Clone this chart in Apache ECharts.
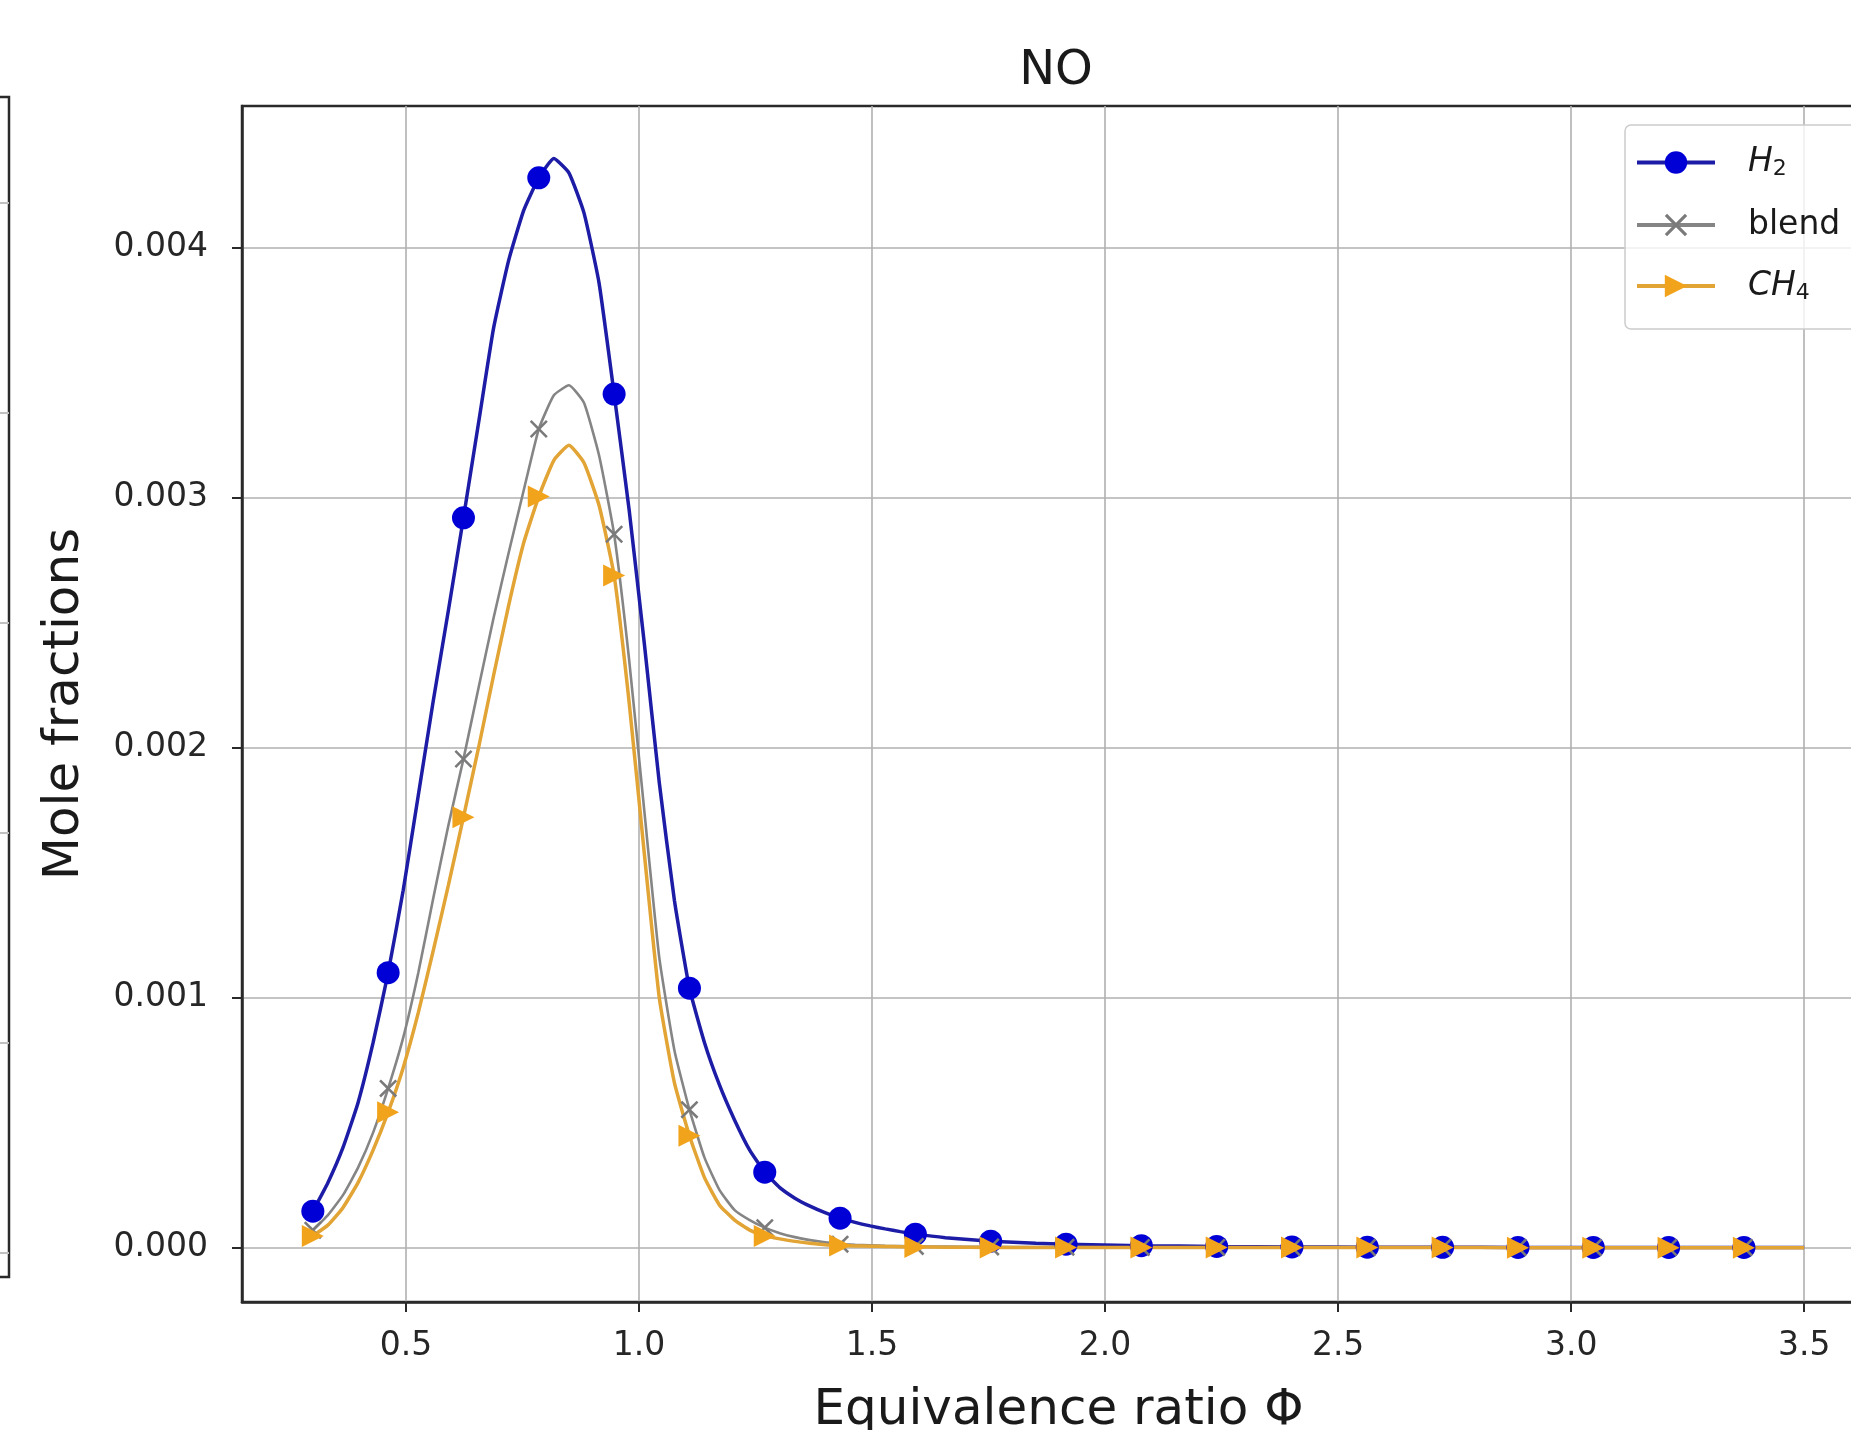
<!DOCTYPE html>
<html>
<head>
<meta charset="utf-8">
<script src="https://cdn.jsdelivr.net/npm/echarts@6/dist/echarts.min.js"></script>
<style>
html,body{margin:0;padding:0;background:#fff;}
#chart{width:1851px;height:1430px;}
</style>
</head>
<body>
<div id="chart"></div>
<script>
// Equivalence ratio positions (x)
const phi = [0.3000,0.3323,0.3646,0.3970,0.4293,0.4616,0.4939,0.5263,0.5586,0.5909,
             0.6232,0.6556,0.6879,0.7202,0.7525,0.7848,0.8172,0.8495,0.8818,0.9141,
             0.9465,0.9788,1.0111,1.0434,1.0758,1.1081,1.1404,1.1727,1.2051,1.2374,
             1.2697,1.3020,1.3343,1.3667,1.3990,1.4313,1.4636,1.4960,1.5283,1.5606,
             1.5929,1.6576,1.7545,1.8515,1.9162,2.0778,2.2394,2.4010,2.5626,2.7242,
             2.8859,3.0475,3.2091,3.3707,3.5000];
// positions that carry a marker
const markerPhi = [0.3000,0.4616,0.6232,0.7848,0.9465,1.1081,1.2697,1.4313,1.5929,1.7545,
                   1.9162,2.0778,2.2394,2.4010,2.5626,2.7242,2.8859,3.0475,3.2091,3.3707];
// Mole fractions, in units of 1e-3
const h2 = [0.146,0.26,0.40,0.58,0.82,1.10,1.43,1.81,2.19,2.55,
            2.92,3.30,3.68,3.95,4.15,4.28,4.357,4.30,4.14,3.86,
            3.415,2.95,2.42,1.86,1.39,1.038,0.82,0.65,0.51,0.39,
            0.302,0.240,0.198,0.166,0.140,0.118,0.101,0.087,0.075,0.064,
            0.054,0.040,0.026,0.018,0.014,0.008,0.005,0.003,0.002,0.0015,
            0.001,0.001,0.0008,0.0006,0.0005];
const blend = [0.07,0.13,0.21,0.32,0.46,0.637,0.84,1.10,1.40,1.69,
               1.955,2.24,2.52,2.78,3.03,3.275,3.41,3.45,3.38,3.17,
               2.854,2.35,1.75,1.16,0.79,0.552,0.36,0.23,0.15,0.11,
               0.08,0.058,0.042,0.030,0.021,0.014,0.011,0.009,0.007,0.006,
               0.005,0.004,0.003,0.002,0.002,0.001,0.001,0.0005,0.0005,0.0003,
               0.0002,0.0002,0.0001,0.0001,0.0001];
const ch4 = [0.047,0.09,0.16,0.26,0.39,0.542,0.72,0.94,1.19,1.45,
             1.722,2.00,2.29,2.57,2.82,3.005,3.15,3.21,3.14,2.97,
             2.689,2.18,1.58,1.00,0.66,0.448,0.28,0.17,0.11,0.07,
             0.047,0.035,0.025,0.018,0.012,0.009,0.007,0.006,0.005,0.004,
             0.003,0.002,0.001,0.0005,0.0005,0.0003,0.0002,0.0001,0.0001,0.0001,
             0,0,0,0,0];
const xTicks = [0.5,1.0,1.5,2.0,2.5,3.0,3.5];
const yTicks = [0,0.001,0.002,0.003,0.004];
// gridlines of the neighbouring (cut-off) panel on the left
const leftPanelTicks = [0,1,2,3,4,5];

const FONT = 'DejaVu Sans';
const isMarker = phi.map(p => markerPhi.includes(p));
function build(vals){
  return phi.map((p,i) => {
    const item = {value:[p, vals[i]*1e-3]};
    if(!isMarker[i]) item.symbol = 'none';
    return item;
  });
}
const X_PATH = 'path://M2,0L10,8L18,0L20,2L12,10L20,18L18,20L10,12L2,20L0,18L8,10L0,2Z';
const TRI_PATH = 'path://M0,0L20,10L0,20Z';

const chart = echarts.init(document.getElementById('chart'), null, {renderer:'canvas'});
const option = {
  backgroundColor:'#ffffff',
  animation:false,
  title:{
    text:'NO', left:1051, top:43, textAlign:'center',
    textStyle:{fontFamily:FONT, fontSize:48, fontWeight:'normal', color:'#1a1a1a'}
  },
  legend:{
    orient:'vertical', left:1625, top:125,
    padding:[21,30,25,10],
    itemWidth:78, itemHeight:28, itemGap:28,
    backgroundColor:'rgba(255,255,255,0.8)',
    borderColor:'#cccccc', borderWidth:1.5, borderRadius:6,
    lineStyle:{width:4},
    data:['H2','blend','CH4'],
    formatter: n => n==='H2' ? '{i|H}{s|2}' : (n==='CH4' ? '{i|CH}{s|4}' : '{t|blend}'),
    textStyle:{
      fontFamily:FONT, fontSize:33, color:'#1a1a1a', padding:[0,0,0,28],
      rich:{
        i:{fontFamily:FONT, fontSize:33, fontStyle:'italic', color:'#1a1a1a'},
        s:{fontFamily:FONT, fontSize:22, color:'#1a1a1a', verticalAlign:'bottom', padding:[14,0,0,0]},
        t:{fontFamily:FONT, fontSize:33, color:'#1a1a1a'}
      }
    }
  },
  grid:[
    {left:242, top:106, width:1633, height:1196, outerBoundsMode:'none', containLabel:false,
     show:true, borderColor:'#2a2a2a', borderWidth:2.5, backgroundColor:'transparent'},
    {left:-400, top:97, width:409, height:1180, outerBoundsMode:'none', containLabel:false,
     show:true, borderColor:'#2a2a2a', borderWidth:2.5, backgroundColor:'transparent'}
  ],
  xAxis:[
    {
      type:'value', gridIndex:0, min:0.148, max:3.652,
      name:'Equivalence ratio Φ', nameLocation:'middle', nameGap:84,
      nameTextStyle:{fontFamily:FONT, fontSize:50, color:'#1a1a1a'},
      axisLine:{show:true, onZero:false, lineStyle:{color:'#2a2a2a', width:2.5}},
      axisTick:{show:true, length:10, lineStyle:{color:'#2a2a2a', width:2}, customValues:xTicks},
      axisLabel:{customValues:xTicks, margin:28, fontFamily:FONT, fontSize:33, color:'#262626',
                 formatter:v=>v.toFixed(1)},
      splitLine:{show:true, lineStyle:{color:'#b0b0b0', width:1.6}}
    },
    {type:'value', gridIndex:1, show:false, min:0, max:1}
  ],
  yAxis:[
    {
      type:'value', gridIndex:0, min:-0.0002175, max:0.0045675,
      name:'Mole fractions', nameLocation:'middle', nameGap:152, nameRotate:90,
      nameTextStyle:{fontFamily:FONT, fontSize:50, color:'#1a1a1a'},
      axisLine:{show:true, onZero:false, lineStyle:{color:'#2a2a2a', width:2.5}},
      axisTick:{show:true, length:10, lineStyle:{color:'#2a2a2a', width:2}, customValues:yTicks},
      axisLabel:{customValues:yTicks, margin:34, fontFamily:FONT, fontSize:33, color:'#262626',
                 formatter:v=>v.toFixed(3)},
      splitLine:{show:true, lineStyle:{color:'#b0b0b0', width:1.6}}
    },
    {
      type:'value', gridIndex:1, min:-0.114, max:5.505,
      axisLine:{show:false}, axisLabel:{show:false},
      axisTick:{show:false, customValues:leftPanelTicks},
      splitLine:{show:true, lineStyle:{color:'#c0c0c0', width:2}}
    }
  ],
  series:[
    {
      name:'H2', type:'line', xAxisIndex:0, yAxisIndex:0, data:build(h2),
      symbol:'circle', symbolSize:23, showAllSymbol:true, smooth:0.15,
      lineStyle:{color:'#1c1ca6', width:3.5},
      itemStyle:{color:'#0000d6'}
    },
    {
      name:'blend', type:'line', xAxisIndex:0, yAxisIndex:0, data:build(blend),
      symbol:X_PATH, symbolSize:18, symbolKeepAspect:true, showAllSymbol:true, smooth:0.15,
      lineStyle:{color:'#858585', width:2.6},
      itemStyle:{color:'#7a7a7a'}
    },
    {
      name:'CH4', type:'line', xAxisIndex:0, yAxisIndex:0, data:build(ch4),
      symbol:TRI_PATH, symbolSize:22, symbolKeepAspect:true, showAllSymbol:true, smooth:0.15,
      lineStyle:{color:'#e2a434', width:3.5},
      itemStyle:{color:'#f2a31c'}
    }
  ]
};
chart.setOption(option);
</script>
</body>
</html>
